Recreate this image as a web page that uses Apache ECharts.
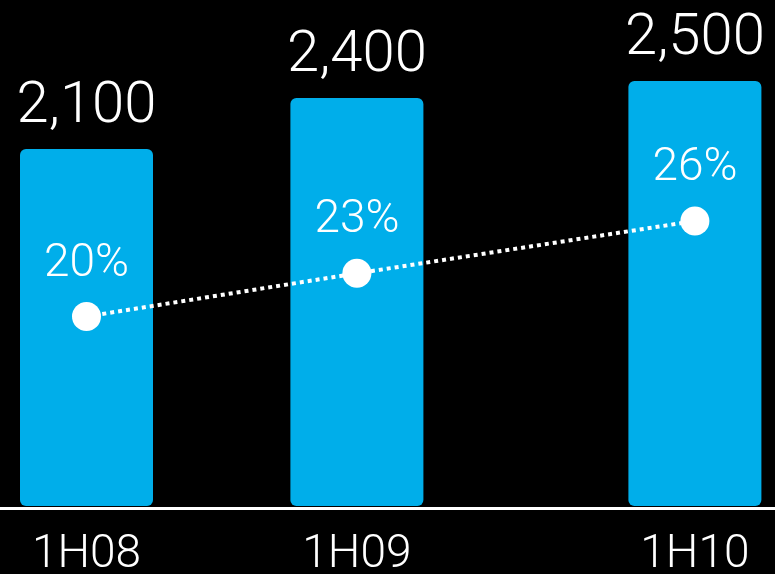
<!DOCTYPE html>
<html>
<head>
<meta charset="utf-8">
<script src="https://cdn.jsdelivr.net/npm/echarts@6/dist/echarts.min.js"></script>
<style>
  html, body { margin: 0; padding: 0; background: #000; }
  #chart { width: 775px; height: 574px; }
</style>
</head>
<body>
<div id="chart"></div>
<script>
// periods and values
const periods = ['1H08', '1H09', '1H10']
const volumes = [2100, 2400, 2500]
const shares = [20.2, 23.0, 26.4]   // %, labels show rounded values

// blank category slots before each period, to get the uneven spacing
const blanksBefore = [0, 3, 4]

const slotLabels = []
const barData = []
const lineData = []
periods.forEach((p, i) => {
  for (let k = 0; k < blanksBefore[i]; k++) {
    slotLabels.push('')
    barData.push('-')
    lineData.push(null)
  }
  slotLabels.push(p)
  barData.push(volumes[i])
  lineData.push(shares[i])
})

const chart = echarts.init(document.getElementById('chart'))

const font = 'Roboto, "Open Sans", sans-serif'

const option = {
  backgroundColor: '#000',
  animation: false,
  grid: {
    left: 52.7, right: 46.3, top: 13, bottom: 68,
    containLabel: false,
    outerBoundsMode: 'none'
  },
  xAxis: {
    type: 'category',
    data: slotLabels,
    axisLine: { show: false },
    axisTick: { show: false },
    axisLabel: {
      interval: 0,
      margin: 26,
      color: '#fff',
      fontFamily: font,
      fontWeight: 300,
      fontSize: 46
    }
  },
  yAxis: [
    { type: 'value', min: 0, max: 2900, show: false },
    { type: 'value', min: 7.9, max: 39.9, show: false }
  ],
  graphic: [{
    type: 'line',
    shape: { x1: 0, y1: 508.5, x2: 775, y2: 508.5 },
    style: { stroke: '#fff', lineWidth: 3 }
  }],
  series: [
    {
      type: 'bar',
      data: barData,
      barWidth: 133,
      clip: false,
      itemStyle: { color: '#00AEEA', borderRadius: 6 },
      label: {
        show: true,
        position: 'top',
        distance: 13,
        color: '#fff',
        fontFamily: font,
        fontWeight: 300,
        fontSize: 58,
        formatter: p => p.value.toLocaleString('en-US')
      }
    },
    {
      type: 'line',
      yAxisIndex: 1,
      data: lineData,
      connectNulls: true,
      clip: false,
      symbol: 'circle',
      symbolSize: 29,
      itemStyle: { color: '#fff' },
      lineStyle: { color: '#fff', width: 4, type: [4, 4], cap: 'butt' },
      z: 3,
      label: {
        show: true,
        position: 'top',
        distance: 15,
        color: '#fff',
        fontFamily: font,
        fontWeight: 300,
        fontSize: 46,
        formatter: p => Math.round(p.value) + '%'
      }
    }
  ]
}

chart.setOption(option)
</script>
</body>
</html>
